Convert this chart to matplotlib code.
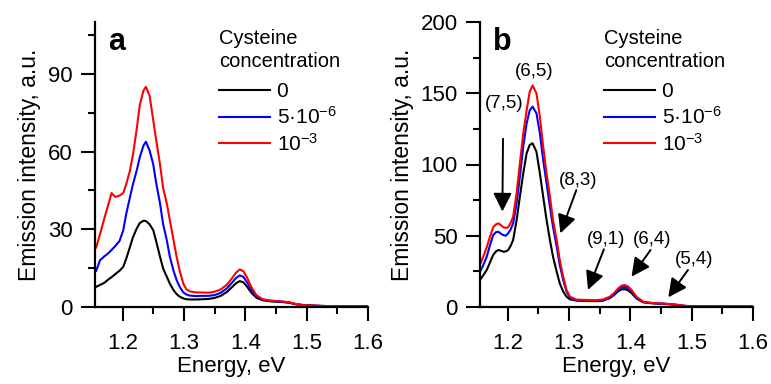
import matplotlib
matplotlib.use('Agg')
import matplotlib.pyplot as plt
from matplotlib.ticker import MultipleLocator

plt.rcParams['font.family'] = ['Liberation Sans', 'DejaVu Sans']
plt.rcParams['mathtext.fontset'] = 'custom'
plt.rcParams['mathtext.rm'] = 'Liberation Sans'
plt.rcParams['mathtext.it'] = 'Liberation Sans:italic'
plt.rcParams['mathtext.default'] = 'regular'

# ---- panel a data ----
energy_a = [1.157, 1.163, 1.170, 1.176, 1.182, 1.188, 1.195, 1.201, 1.206, 1.212,
            1.217, 1.223, 1.228, 1.234, 1.238, 1.244, 1.250, 1.255, 1.261, 1.266,
            1.272, 1.277, 1.283, 1.288, 1.293, 1.299, 1.304, 1.310, 1.320, 1.330,
            1.340, 1.350, 1.360, 1.370, 1.378, 1.385, 1.391, 1.397, 1.403, 1.410,
            1.418, 1.428, 1.440, 1.452, 1.462, 1.472, 1.482, 1.492, 1.505, 1.525,
            1.550, 1.575, 1.600]
black_a = [7.8, 8.5, 9.3, 10.5, 11.5, 12.7, 14, 15.5, 18.7, 23.2,
           27, 30.3, 32.4, 33.3, 33.2, 31.9, 29.6, 25.1, 19.4, 14.9,
           11.7, 9, 6.5, 5, 4, 3.3, 3.0, 2.9, 2.9, 3.0,
           3.1, 3.5, 4.3, 5.8, 7.6, 9.2, 10, 9.5, 7.8, 5.5,
           3.6, 2.6, 2.2, 2.0, 1.9, 1.6, 1.1, 0.8, 0.6, 0.4,
           0.3, 0.3, 0.3]
blue_a = [14, 18, 19.5, 20.6, 22, 23.5, 25.5, 29.6, 36, 42.4,
          47.5, 52.7, 57.8, 62.3, 63.8, 60.4, 55, 47.5, 40, 32,
          25.8, 19.4, 14, 10.4, 7.8, 5.6, 4.8, 4.4, 4.2, 4.3,
          4.3, 4.6, 5.5, 7.2, 9.3, 11.2, 12.2, 11.6, 9.5, 6.6,
          4.2, 2.9, 2.4, 2.2, 2.0, 1.7, 1.1, 0.8, 0.6, 0.4,
          0.3, 0.3, 0.3]
red_a = [23, 28, 34, 39, 44, 42.5, 43, 44, 47.5, 52.7,
         59, 68.7, 78, 83.5, 85, 81.5, 72, 64, 55, 46,
         40, 33.5, 25.8, 19.4, 14, 9, 6.8, 6.0, 5.6, 5.6,
         5.5, 5.9, 6.8, 8.6, 11, 13.3, 14.5, 13.8, 11.3, 7.6,
         4.6, 3.0, 2.5, 2.3, 2.1, 1.8, 1.2, 0.8, 0.6, 0.4,
         0.3, 0.3, 0.3]

# ---- panel b data ----
energy_b = [1.155, 1.160, 1.166, 1.171, 1.1765, 1.181, 1.185, 1.189, 1.193, 1.197,
            1.201, 1.205, 1.209, 1.2147, 1.220, 1.2255, 1.231, 1.236, 1.2407, 1.247,
            1.2526, 1.258, 1.2635, 1.269, 1.274, 1.280, 1.285, 1.2906, 1.296, 1.3015,
            1.312, 1.323, 1.334, 1.345, 1.355, 1.3666, 1.374, 1.380, 1.386, 1.391,
            1.396, 1.402, 1.410, 1.421, 1.432, 1.443, 1.454, 1.464, 1.476, 1.489,
            1.505, 1.530, 1.560, 1.600]
black_b = [19, 22, 26, 31, 36.5, 39, 40, 39.5, 38.8, 39,
           40, 43, 47, 61, 77.4, 93.8, 107.9, 113.7, 114.9, 109,
           93.8, 77.4, 61, 47, 35.3, 24.8, 16.6, 10.8, 7.3, 5.4,
           4.5, 4.3, 4.2, 4.1, 4.4, 6.2, 8.6, 11, 12.4, 12.5,
           11.8, 9.8, 6.0, 3.3, 2.7, 2.4, 2.2, 1.9, 1.4, 0.7,
           0.5, 0.4, 0.3, 0.3]
blue_b = [24.8, 29, 35.3, 43, 50.5, 52.5, 52.8, 51.5, 50.5, 50,
          51.7, 54.5, 58.7, 72.8, 91.4, 112.5, 128.9, 138, 140.6, 136,
          121.9, 103, 86.8, 70.4, 56.3, 42.3, 29.5, 19, 10.8, 6.6,
          4.8, 4.6, 4.5, 4.4, 4.8, 6.7, 9.3, 12, 13.8, 14.0,
          13.2, 11, 6.7, 3.5, 2.9, 2.5, 2.3, 2.0, 1.5, 0.8,
          0.5, 0.4, 0.3, 0.3]
red_b = [29.5, 35, 42, 49, 56, 58, 58.7, 57.5, 56, 55.5,
         56, 59, 63.4, 79.8, 100.8, 121.9, 138, 151, 155.5, 150,
         133.5, 112.5, 93.8, 77.4, 61, 47, 33, 21.3, 12, 7.3,
         5.2, 5.0, 4.9, 4.8, 5.2, 7.2, 10, 13, 15, 15.4,
         14.5, 12, 7.2, 3.7, 3.0, 2.6, 2.4, 2.1, 1.6, 0.8,
         0.5, 0.4, 0.3, 0.3]

legend_labels = ['0', '5·10$^{-6}$', '10$^{-3}$']
colors = ['black', '#0000ff', '#ff0000']

# chirality labels in panel b: text position, arrow tail, arrow tip (eV, a.u.)
chir_labels = ['(7,5)', '(6,5)', '(8,3)', '(9,1)', '(6,4)', '(5,4)']
chir_text = [(1.1945, 142.5), (1.243, 165), (1.315, 89), (1.361, 47.5), (1.436, 47.5), (1.504, 33.5)]
chir_tail = [(1.1925, 118), None, (1.312, 82), (1.357, 40.5), (1.433, 40), (1.494, 26)]
chir_tip = [(1.1915, 67), None, (1.286, 51.7), (1.331, 12), (1.402, 21.3), (1.462, 6.8)]

fig = plt.figure(figsize=(7.71, 3.84), dpi=100)
ax_a = fig.add_axes([95 / 771, 77 / 384, 273 / 771, 285 / 384])
ax_b = fig.add_axes([480 / 771, 77 / 384, 273 / 771, 285 / 384])


def style_axes(ax, ymax, ymajor, yminor, letter):
    ax.set_xlim(1.155, 1.6)
    ax.set_ylim(0, ymax)
    ax.xaxis.set_major_locator(MultipleLocator(0.1))
    ax.xaxis.set_minor_locator(MultipleLocator(0.05))
    ax.yaxis.set_major_locator(MultipleLocator(ymajor))
    ax.yaxis.set_minor_locator(MultipleLocator(yminor))
    for s in ['top', 'right']:
        ax.spines[s].set_visible(False)
    for s in ['left', 'bottom']:
        ax.spines[s].set_linewidth(1.6)
    ax.tick_params(which='major', direction='out', length=10, width=1.5, labelsize=16)
    ax.tick_params(which='minor', direction='out', length=5, width=1.5)
    ax.tick_params(axis='y', which='major', pad=6)
    ax.tick_params(axis='x', which='major', pad=9)
    ax.set_xlabel('Energy, eV', fontsize=16, labelpad=1.5)
    ax.set_ylabel('Emission intensity, a.u.', fontsize=16.5, labelpad=5)
    ax.text(0.08, 0.93, letter, transform=ax.transAxes, fontsize=22,
            fontweight='bold', ha='center', va='center')
    leg = ax.legend(title='Cysteine\nconcentration', loc='upper left',
                    bbox_to_anchor=(0.455, 0.975), frameon=False, fontsize=15,
                    title_fontsize=14.5, handlelength=2.45, handletextpad=0.3,
                    labelspacing=0.24, borderpad=0, borderaxespad=0,
                    alignment='left')
    leg._legend_box.sep = 8
    leg.get_title().set_linespacing(1.25)
    for line in leg.get_lines():
        line.set_linewidth(1.5)
    return leg


for ys, lab, c in zip([black_a, blue_a, red_a], legend_labels, colors):
    ax_a.plot(energy_a, ys, color=c, lw=1.5, label=lab)
style_axes(ax_a, 110, 30, 15, 'a')

for ys, lab, c in zip([black_b, blue_b, red_b], legend_labels, colors):
    ax_b.plot(energy_b, ys, color=c, lw=1.5, label=lab)
style_axes(ax_b, 200, 50, 25, 'b')

for lab, tpos, tail, tip in zip(chir_labels, chir_text, chir_tail, chir_tip):
    ax_b.text(tpos[0], tpos[1], lab, fontsize=13.5, ha='center', va='center')
    if tail is not None:
        ax_b.annotate('', xy=tip, xytext=tail,
                      arrowprops=dict(arrowstyle='-|>', color='black', lw=1.4,
                                      mutation_scale=28, shrinkA=0, shrinkB=0))

fig.savefig('out.png', dpi=100)
